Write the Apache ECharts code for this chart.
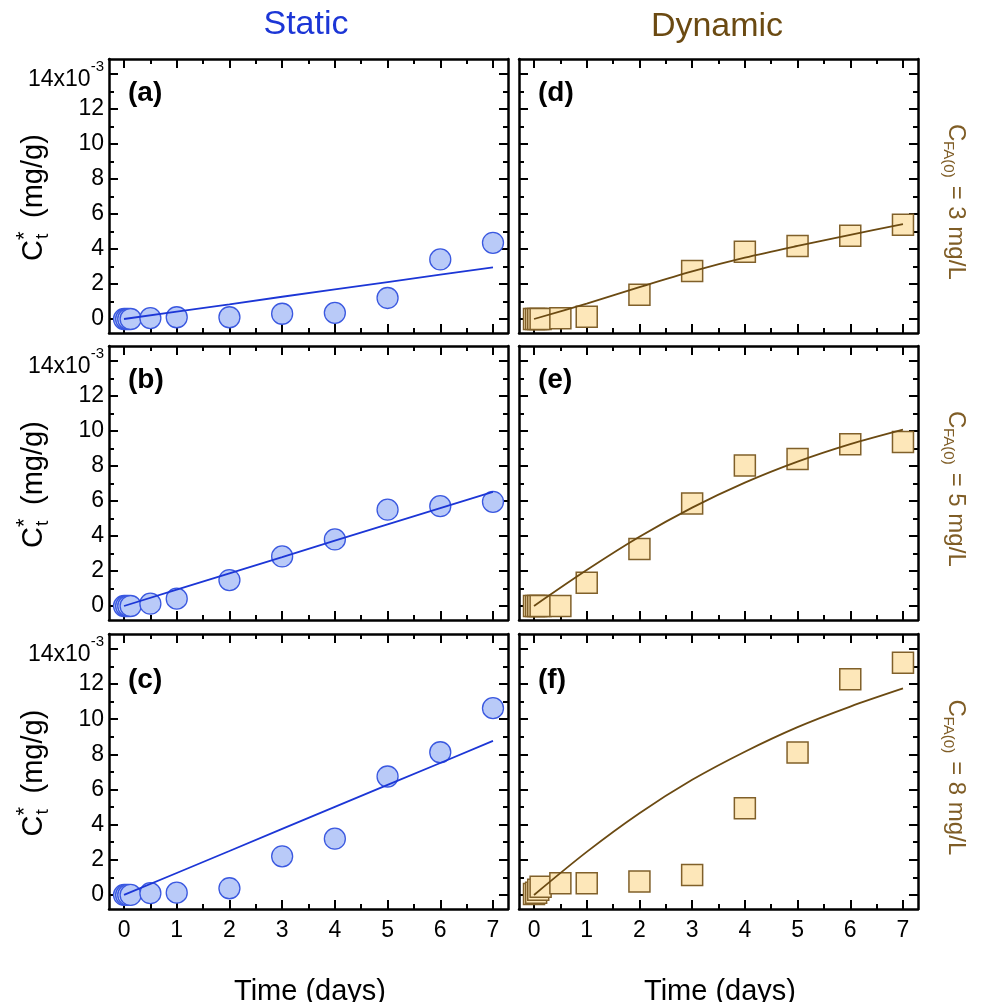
<!DOCTYPE html>
<html>
<head>
<meta charset="utf-8">
<script src="https://cdn.jsdelivr.net/npm/echarts@6/dist/echarts.min.js"></script>
<style>
html,body{margin:0;padding:0;background:#fff;}
#main{width:981px;height:1002px;}
</style>
</head>
<body>
<div id="main"></div>
<script>
// ---------------- data (y values in units of 10^-3 mg/g) ----------------
const TIMES = [0, 0.04, 0.08, 0.125, 0.5, 1, 2, 3, 4, 5, 6, 7];
const FIT_T = [0, 1, 2, 3, 4, 5, 6, 7];

const staticA = [0, 0, 0, 0, 0.05, 0.1, 0.1, 0.3, 0.35, 1.2, 3.4, 4.35];
const staticB = [0, 0, 0, 0, 0.13, 0.42, 1.48, 2.83, 3.8, 5.5, 5.7, 5.95];
const staticC = [0, 0, 0, 0, 0.1, 0.13, 0.38, 2.2, 3.2, 6.74, 8.12, 10.63];
const dynD = [0, 0, 0, 0, 0.04, 0.13, 1.39, 2.74, 3.84, 4.17, 4.76, 5.39];
const dynE = [0, 0, 0, 0, 0, 1.33, 3.25, 5.86, 8.02, 8.4, 9.24, 9.37];
const dynF = [0.05, 0.13, 0.3, 0.47, 0.66, 0.66, 0.76, 1.14, 4.93, 8.1, 12.28, 13.22];

const fitA = [0, 0.42, 0.84, 1.27, 1.69, 2.11, 2.53, 2.95];
const fitB = [0, 0.93, 1.86, 2.79, 3.73, 4.66, 5.59, 6.52];
const fitC = [0, 1.25, 2.5, 3.76, 5.01, 6.26, 7.51, 8.77];
const fitD = [0, 0.88, 1.82, 2.72, 3.5, 4.17, 4.8, 5.42];
const fitE = [0, 2.05, 3.95, 5.62, 7.05, 8.25, 9.25, 10.08];
const fitF = [0, 2.45, 4.65, 6.55, 8.15, 9.55, 10.72, 11.75];

const X_MAJOR = [0, 1, 2, 3, 4, 5, 6, 7];
const X_MINOR = [0.5, 1.5, 2.5, 3.5, 4.5, 5.5, 6.5];
const Y_MAJOR = [0, 2, 4, 6, 8, 10, 12, 14];
const Y_MINOR = [1, 3, 5, 7, 9, 11, 13];

const PANEL_LABELS = ['(a)', '(b)', '(c)', '(d)', '(e)', '(f)'];
const COLUMN_TITLES = ['Static', 'Dynamic'];
const CONC_LABELS = ['3', '5', '8'];
const X_NAME = 'Time (days)';

// ---------------- layout / style ----------------
const FONT = '"Liberation Sans", Arial, Helvetica, sans-serif';
const X_MIN = -0.285, X_MAX = 7.285, Y_MIN = -0.8, Y_MAX = 14.85;
const COLS = [{left: 109, width: 399}, {left: 519, width: 399}];
const ROWS = [{top: 59, height: 274}, {top: 346, height: 274}, {top: 634, height: 275}];
const BLUE = '#1c36d6', BROWN = '#6b4a12', BROWN_LBL = '#7f5d26';

const panels = [
  {col: 0, row: 0, obs: staticA, fit: fitA},
  {col: 0, row: 1, obs: staticB, fit: fitB},
  {col: 0, row: 2, obs: staticC, fit: fitC},
  {col: 1, row: 0, obs: dynD, fit: fitD},
  {col: 1, row: 1, obs: dynE, fit: fitE},
  {col: 1, row: 2, obs: dynF, fit: fitF}
];

const grids = [], xAxes = [], yAxes = [], series = [], graphics = [];

function mkX(g, pos, ticks, len, showLine, showLabel) {
  return {
    type: 'value', gridIndex: g, position: pos, min: X_MIN, max: X_MAX,
    axisLine: {show: showLine, onZero: false, lineStyle: {color: '#000', width: 2.5}},
    axisTick: {show: true, inside: true, length: len, customValues: ticks, lineStyle: {color: '#000', width: 2}},
    axisLabel: {show: showLabel, customValues: X_MAJOR, color: '#000', fontSize: 23, fontFamily: FONT, margin: 10},
    splitLine: {show: false}
  };
}
function mkY(g, pos, ticks, len, showLine, showLabel) {
  return {
    type: 'value', gridIndex: g, position: pos, min: Y_MIN, max: Y_MAX,
    axisLine: {show: showLine, onZero: false, lineStyle: {color: '#000', width: 2.5}},
    axisTick: {show: true, inside: true, length: len, customValues: ticks, lineStyle: {color: '#000', width: 2}},
    axisLabel: {
      show: showLabel, customValues: Y_MAJOR, color: '#000', fontSize: 23, fontFamily: FONT, margin: 5,
      formatter: v => (v === 14 ? '{a|14x10}{s|-3}' : String(v)),
      rich: {
        a: {fontSize: 23, fontFamily: FONT, color: '#000', padding: [11, 0, 0, 0]},
        s: {fontSize: 15, fontFamily: FONT, color: '#000', padding: [0, 0, 14, 0]}
      }
    },
    splitLine: {show: false}
  };
}

panels.forEach((p, i) => {
  const c = COLS[p.col], r = ROWS[p.row];
  grids.push({left: c.left, top: r.top, width: c.width, height: r.height, containLabel: false});
  const bottomRow = p.row === 2, leftCol = p.col === 0;
  xAxes.push(mkX(i, 'bottom', X_MAJOR, 9, true, bottomRow));
  xAxes.push(mkX(i, 'bottom', X_MINOR, 5, false, false));
  xAxes.push(mkX(i, 'top', X_MAJOR, 9, true, false));
  xAxes.push(mkX(i, 'top', X_MINOR, 5, false, false));
  yAxes.push(mkY(i, 'left', Y_MAJOR, 9, true, leftCol));
  yAxes.push(mkY(i, 'left', Y_MINOR, 5, false, false));
  yAxes.push(mkY(i, 'right', Y_MAJOR, 9, true, false));
  yAxes.push(mkY(i, 'right', Y_MINOR, 5, false, false));

  const isStatic = p.col === 0;
  series.push({
    type: 'scatter', xAxisIndex: 4 * i, yAxisIndex: 4 * i, z: 2,
    symbol: isStatic ? 'circle' : 'rect', symbolSize: 21,
    itemStyle: isStatic
      ? {color: '#b9caf8', borderColor: '#3a58e0', borderWidth: 1.3, opacity: 1}
      : {color: '#fde7b9', borderColor: '#80602a', borderWidth: 1.5, opacity: 1},
    data: TIMES.map((t, k) => [t, p.obs[k]])
  });
  series.push({
    type: 'line', xAxisIndex: 4 * i, yAxisIndex: 4 * i, z: 3,
    showSymbol: false, smooth: isStatic ? false : 0.3,
    lineStyle: {color: isStatic ? BLUE : BROWN, width: 1.8},
    data: FIT_T.map((t, k) => [t, p.fit[k]])
  });

  // panel label
  graphics.push({
    type: 'text', left: c.left + 19, top: r.top + (p.row === 2 ? 32 : 20),
    style: {text: PANEL_LABELS[i], font: 'bold 28px ' + FONT, fill: '#000'}
  });
});

// column titles
graphics.push({type: 'text', x: 306, y: 25, style: {text: COLUMN_TITLES[0], font: '34px ' + FONT, fill: BLUE, textAlign: 'center', textVerticalAlign: 'middle'}});
graphics.push({type: 'text', x: 717, y: 27, style: {text: COLUMN_TITLES[1], font: '34px ' + FONT, fill: BROWN, textAlign: 'center', textVerticalAlign: 'middle'}});

// x axis names
graphics.push({type: 'text', x: 310, y: 992, style: {text: X_NAME, font: '29px ' + FONT, fill: '#000', textAlign: 'center', textVerticalAlign: 'middle'}});
graphics.push({type: 'text', x: 720, y: 992, style: {text: X_NAME, font: '29px ' + FONT, fill: '#000', textAlign: 'center', textVerticalAlign: 'middle'}});

// y axis names (rotated, reading bottom to top)
ROWS.forEach(r => {
  const cy = r.top + r.height / 2 + 1;
  const s = -64;
  graphics.push({
    type: 'group', x: 34, y: cy, rotation: Math.PI / 2,
    children: [
      {type: 'text', x: s, y: 0, style: {text: 'C', font: '29px ' + FONT, fill: '#000', textAlign: 'left', textVerticalAlign: 'middle'}},
      {type: 'text', x: s + 21, y: -9, style: {text: '*', font: '22px ' + FONT, fill: '#000', textAlign: 'left', textVerticalAlign: 'middle'}},
      {type: 'text', x: s + 22, y: 9, style: {text: 't', font: '19px ' + FONT, fill: '#000', textAlign: 'left', textVerticalAlign: 'middle'}},
      {type: 'text', x: s + 43, y: 0, style: {text: '(mg/g)', font: '29px ' + FONT, fill: '#000', textAlign: 'left', textVerticalAlign: 'middle'}}
    ]
  });
});

// right concentration labels (rotated, reading top to bottom)
ROWS.forEach((r, k) => {
  const cy = r.top + r.height / 2 + 9;
  const s = -81;
  graphics.push({
    type: 'group', x: 956, y: cy, rotation: -Math.PI / 2,
    children: [
      {type: 'text', x: s, y: 0, style: {text: 'C', font: '24px ' + FONT, fill: BROWN_LBL, textAlign: 'left', textVerticalAlign: 'middle'}},
      {type: 'text', x: s + 17, y: 8, style: {text: 'FA(0)', font: '15px ' + FONT, fill: BROWN_LBL, textAlign: 'left', textVerticalAlign: 'middle'}},
      {type: 'text', x: s + 55, y: 0, style: {text: ' = ' + CONC_LABELS[k] + ' mg/L', font: '24px ' + FONT, fill: BROWN_LBL, textAlign: 'left', textVerticalAlign: 'middle'}}
    ]
  });
});

const chart = echarts.init(document.getElementById('main'), null, {renderer: 'canvas'});
chart.setOption({
  animation: false,
  backgroundColor: '#fff',
  grid: grids,
  xAxis: xAxes,
  yAxis: yAxes,
  series: series,
  graphic: graphics
});
</script>
</body>
</html>
